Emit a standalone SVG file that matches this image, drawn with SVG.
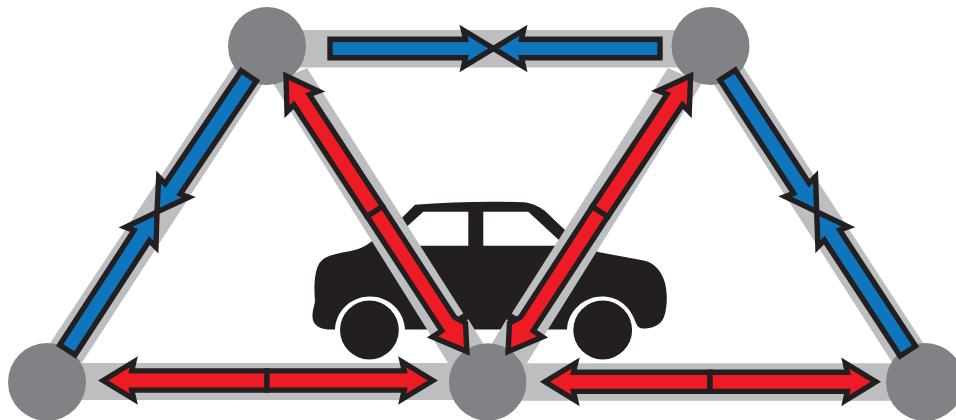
<svg xmlns="http://www.w3.org/2000/svg" width="956" height="420" viewBox="0 0 956 420">
<style>
.band{fill:#bcbec0}
.node{fill:#808285}
.ink{fill:#231f20}
.win{fill:#fff}
.red,.blue{stroke:#231f20;stroke-width:5.4;stroke-miterlimit:10;stroke-linejoin:miter}
.red{fill:#ed1c24}
.blue{fill:#0f75bc}
</style>
<rect width="956" height="420" fill="#fff"/>
<g id="car">
<path class="ink" d="M333,329.5C325,330 315,328 313,320C311,312 315,306 315,300C314,290 314,275 318,266C322,256 335,254 345,252C358,250 365,247 372,241L403,216.7L415,204.8C450,202 490,201 523,202.3C532,203 538,206 545,211L565,230L598,252L645,260.7C655,263 662,272 665,283C668,296 667,308 664,317C661,325 652,328.5 645,328.5C639,329 637,326 635.5,322C630,306 618,296.5 602,296.5C585,296.5 568,310 567,329.5L405,329.5C404,310 388,296.5 370,296.5C352,296.5 336,310 335,329.5Z"/>
<polygon class="win" points="423.3,211.7 468.3,211.7 468.3,245.7 410,245.7 392,240"/>
<polygon class="win" points="483.3,211.7 528.3,211.7 565,245.7 483.3,245.7"/>
<circle class="ink" cx="369.4" cy="330" r="29.4"/>
<circle class="ink" cx="602.7" cy="330" r="29.4"/>
</g>
<g id="connector-bands">
<rect class="band" x="267" y="30" width="443" height="37.5"/>
<rect class="band" x="47" y="363" width="441" height="37"/>
<rect class="band" x="488" y="363.3" width="437" height="37.5"/>
<polygon class="band" points="50,343.3 81.7,363 263.3,83 233.3,66.7"/>
<polygon class="band" points="713,83 891.7,361.7 923.3,343.3 743.3,66.7"/>
<polygon class="band" id="band-left-red" points="273,83 307,68 463.3,313.5 458.3,316.7 458,330 468.3,319 484,345 488,381 448,363"/>
<polygon class="band" id="band-right-red" transform="matrix(-1 0 0 1 975 0)" points="273,83 307,68 463.3,313.5 458.3,316.7 458,330 468.3,319 484,345 488,381 448,363"/>
</g>
<g id="node-top-left"><circle class="node" cx="267" cy="46" r="39"/></g>
<g id="node-top-right"><circle class="node" cx="710.5" cy="46" r="39"/></g>
<g id="node-bottom-left"><circle class="node" cx="47" cy="382" r="39"/></g>
<g id="node-bottom-middle"><circle class="node" cx="487.7" cy="382" r="38.7"/></g>
<g id="node-bottom-right"><circle class="node" cx="925" cy="382" r="39"/></g>
<g id="connectors">
<polygon class="blue" transform="translate(493.5,48.5)" points="-163.5,-9.2 -28,-9.2 -30,-18.2 0,0 -30,18.2 -28,9.2 -163.5,9.2"/>
<polygon class="blue" transform="translate(493.5,48.5) rotate(180)" points="-166.5,-9.2 -28,-9.2 -30,-18.2 0,0 -30,18.2 -28,9.2 -166.5,9.2"/>
<polygon class="blue" transform="translate(157,212) rotate(-57)" points="-164.5,-9.2 -28,-9.2 -30,-18.2 0,0 -30,18.2 -28,9.2 -164.5,9.2"/>
<polygon class="blue" transform="translate(157,212) rotate(124)" points="-164.2,-9.2 -28,-9.2 -30,-18.2 0,0 -30,18.2 -28,9.2 -164.2,9.2"/>
<polygon class="blue" transform="translate(816.7,211.7) rotate(56.9)" points="-163.2,-9.2 -28,-9.2 -30,-18.2 0,0 -30,18.2 -28,9.2 -163.2,9.2"/>
<polygon class="blue" transform="translate(816.7,211.7) rotate(236.8)" points="-166.4,-9.2 -28,-9.2 -30,-18.2 0,0 -30,18.2 -28,9.2 -166.4,9.2"/>
<polygon class="red" transform="translate(103.2,380.5) rotate(180)" points="-163.8,-9.6 -28.5,-9.6 -30.6,-18.7 0,0 -30.6,18.7 -28.5,9.6 -163.8,9.6"/>
<polygon class="red" transform="translate(432.8,380.5)" points="-165.8,-9.6 -28.5,-9.6 -30.6,-18.7 0,0 -30.6,18.7 -28.5,9.6 -165.8,9.6"/>
<polygon class="red" transform="translate(545,381.8) rotate(180)" points="-165,-9.6 -28.5,-9.6 -30.6,-18.7 0,0 -30.6,18.7 -28.5,9.6 -165,9.6"/>
<polygon class="red" transform="translate(875.9,381.8)" points="-165.9,-9.6 -28.5,-9.6 -30.6,-18.7 0,0 -30.6,18.7 -28.5,9.6 -165.9,9.6"/>
<polygon class="red" transform="translate(286,75.8) rotate(236.8)" points="-162.2,-9.3 -28.5,-9.3 -30.6,-18.8 0,0 -30.6,18.8 -28.5,9.3 -162.2,9.3"/>
<polygon class="red" points="367.2,216.6 441.8,330.8 432.5,337 466.9,351.6 465.5,323 454.5,317.3 382.6,206.4"/>
<polygon class="red" transform="matrix(-1 0 0 1 975 0)" points="367.2,216.6 441.8,330.8 432.5,337 466.9,351.6 465.5,323 454.5,317.3 382.6,206.4"/>
<polygon class="red" transform="translate(690.6,75.8) rotate(-56.3)" points="-163.2,-9.3 -28.5,-9.3 -30.6,-18.8 0,0 -30.6,18.8 -28.5,9.3 -163.2,9.3"/>
</g>
</svg>
